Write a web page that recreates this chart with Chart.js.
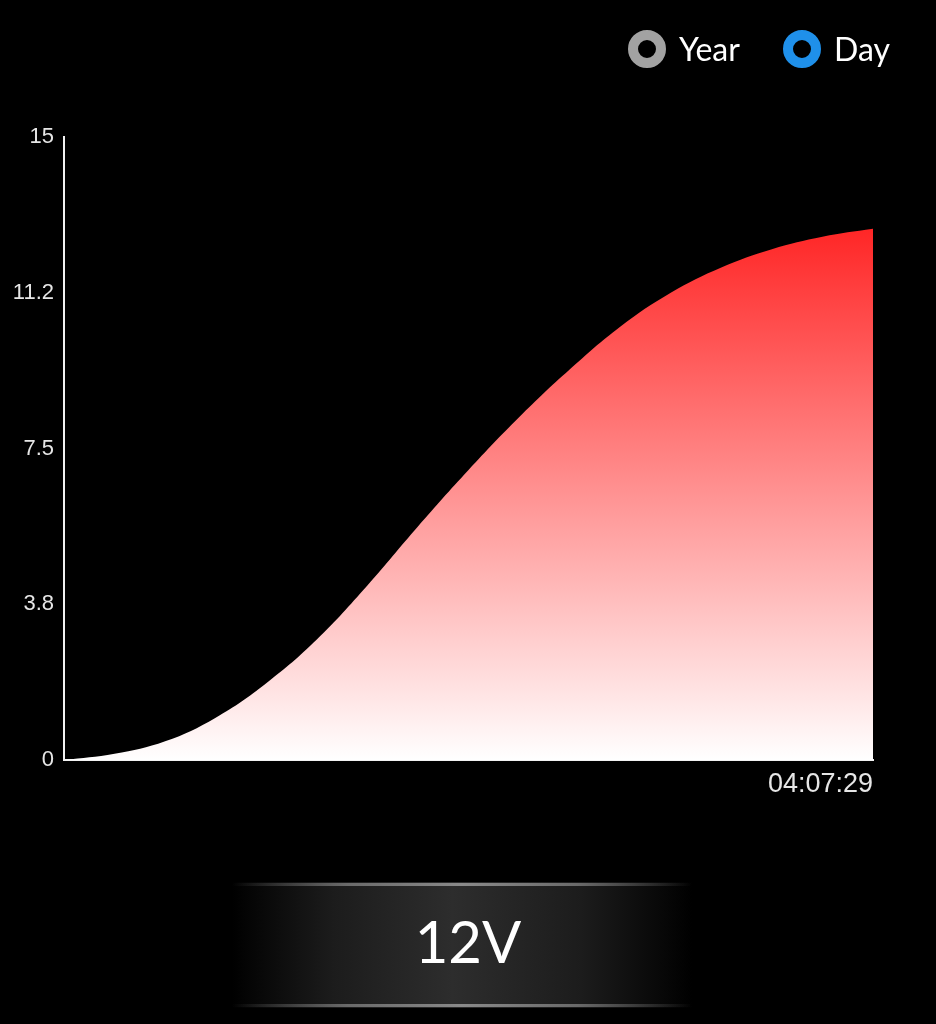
<!DOCTYPE html>
<html>
<head>
<meta charset="utf-8">
<script src="https://cdn.jsdelivr.net/npm/chart.js@4/dist/chart.umd.min.js"></script>
<style>
  html, body { margin: 0; padding: 0; background: #000; }
  body { width: 936px; height: 1024px; position: relative; overflow: hidden; font-family: Lato, "Open Sans", sans-serif; }
  #chartWrap { position: absolute; left: 0; top: 0; width: 936px; height: 820px; }
  .legend-item { position: absolute; top: 29px; display: flex; align-items: center; color: #fff; font-size: 32px; }
  .legend-item .ring { width: 38px; height: 38px; box-sizing: border-box; border-radius: 50%; border: 10px solid; margin-right: 13px; }
  #banner { position: absolute; left: 232px; top: 882px; width: 460px; height: 126px;
    background: linear-gradient(90deg, #000 0%, #1c1c1c 22%, #2d2d2d 48%, #1c1c1c 76%, #000 100%); }
  #banner::before, #banner::after { content: ""; position: absolute; left: 0; right: 0; height: 3px;
    background: linear-gradient(90deg, rgba(0,0,0,0) 0%, #6a6a6a 25%, #8a8a8a 50%, #6a6a6a 75%, rgba(0,0,0,0) 100%); }
  #banner::before { top: 1px; }
  #banner::after { bottom: 1px; }
  #bannerText { position: absolute; left: 0; right: 0; top: 24px; text-align: center; color: #fff;
    font-size: 58px; line-height: 70px; padding-left: 12px; }
</style>
</head>
<body>
<div id="chartWrap"><canvas id="voltChart"></canvas></div>
<div id="legend"></div>
<div id="banner"><div id="bannerText">12V</div></div>
<script>
const timeLabels = ["", "", "", "", "", "", "", "", "", "", "", "", "", "", "", "", "04:07:29"];
const dayValues = [0, 0.15, 0.45, 1.02, 1.85, 2.9, 4.2, 5.62, 6.98, 8.25, 9.4, 10.43, 11.25, 11.86, 12.3, 12.6, 12.79];
const yTickLabels = ["0", "3.8", "7.5", "11.2", "15"];
const legendLabels = ["Year", "Day"];
const legendColors = ["#a2a2a2", "#1f90ea"];
const legendLeft = [628, 783];
const bannerValue = "12V";

function buildLegend() {
  const box = document.getElementById("legend");
  legendLabels.forEach((label, i) => {
    const item = document.createElement("div");
    item.className = "legend-item";
    item.style.left = legendLeft[i] + "px";
    const ring = document.createElement("span");
    ring.className = "ring";
    ring.style.borderColor = legendColors[i];
    const text = document.createElement("span");
    text.textContent = label;
    item.append(ring, text);
    box.appendChild(item);
  });
  document.getElementById("bannerText").textContent = bannerValue;
}

function areaGradient(context) {
  const { chart } = context;
  const { ctx, chartArea, scales } = chart;
  if (!chartArea) return "rgba(255, 60, 60, 0.6)";
  const top = scales.y.getPixelForValue(Math.max(...dayValues));
  const grad = ctx.createLinearGradient(0, top, 0, chartArea.bottom);
  grad.addColorStop(0, "#ff2626");
  grad.addColorStop(1, "#ffffff");
  return grad;
}

buildLegend();

new Chart(document.getElementById("voltChart").getContext("2d"), {
  type: "line",
  data: {
    labels: timeLabels,
    datasets: [{
      label: "Day",
      data: dayValues,
      borderWidth: 0,
      borderColor: "rgba(0,0,0,0)",
      backgroundColor: areaGradient,
      pointRadius: 0,
      tension: 0.4,
      fill: "origin"
    }]
  },
  options: {
    responsive: true,
    maintainAspectRatio: false,
    animation: false,
    layout: { padding: { top: 137, right: 63, bottom: 0, left: 0 } },
    plugins: { legend: { display: false }, tooltip: { enabled: false } },
    scales: {
      x: {
        grid: { display: false, drawTicks: false },
        border: { display: true, color: "#f2f2f2", width: 2 },
        afterFit: scale => { scale.height = 60; },
        ticks: {
          autoSkip: false,
          maxRotation: 0,
          minRotation: 0,
          align: "end",
          padding: 8,
          color: "#e6e6e6",
          font: { family: "'Liberation Sans', Arial, sans-serif", size: 27 }
        }
      },
      y: {
        min: 0,
        max: 15,
        grid: { display: false, drawTicks: false },
        border: { display: true, color: "#f2f2f2", width: 2 },
        afterFit: scale => { scale.width = 64; },
        ticks: {
          stepSize: 3.75,
          padding: 10,
          color: "#e6e6e6",
          font: { family: "'Liberation Sans', Arial, sans-serif", size: 22 },
          callback: (value, index) => yTickLabels[index]
        }
      }
    }
  }
});
</script>
</body>
</html>
